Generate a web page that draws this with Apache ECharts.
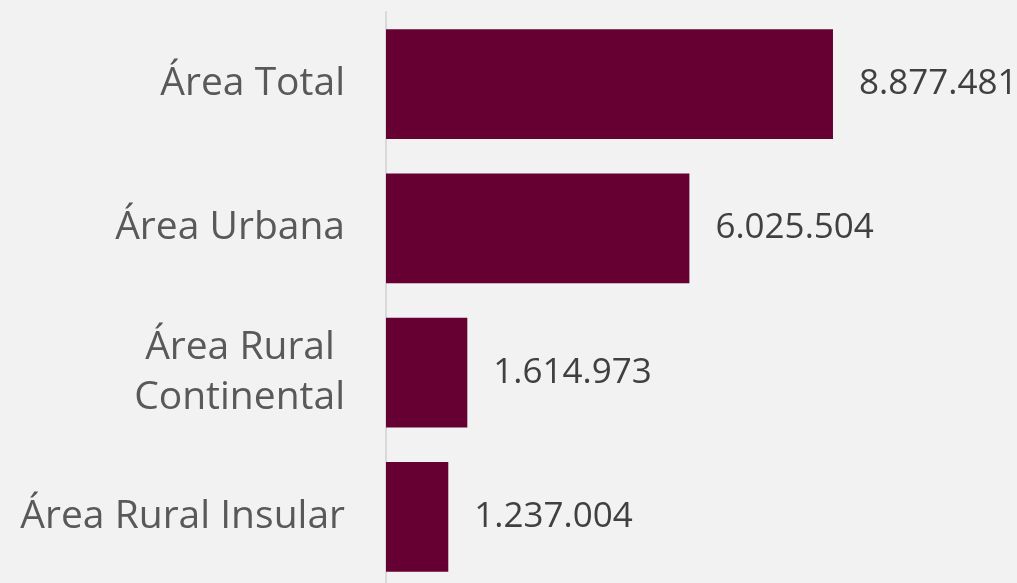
<!DOCTYPE html>
<html>
<head>
    <meta charset="utf-8">
    <title>Población por área</title>
    <script src="https://cdn.jsdelivr.net/npm/echarts@6/dist/echarts.min.js"></script>
    <style>
        html, body { margin: 0; padding: 0; background: #f2f2f2; }
        #chart { width: 1017px; height: 583px; }
    </style>
</head>
<body>
    <div id="chart"></div>
    <script>
        // categorías y valores
        var categorias = ['Área Total', 'Área Urbana', 'Área Rural \nContinental', 'Área Rural Insular'];
        var valores = [8877481, 6025504, 1614973, 1237004];

        // 8877481 -> 8.877.481
        function miles(v) {
            return String(v).replace(/\B(?=(\d{3})+(?!\d))/g, '.');
        }

        var chart = echarts.init(document.getElementById('chart'));
        var option = {
            backgroundColor: '#f2f2f2',
            animation: false,
            grid: {
                left: 386,
                top: 12,
                width: 503.5,
                height: 577,
                outerBoundsMode: 'none'
            },
            xAxis: {
                type: 'value',
                min: 0,
                max: 10000000,
                show: false
            },
            yAxis: {
                type: 'category',
                inverse: true,
                data: categorias,
                axisLine: { show: true, lineStyle: { color: '#d9d9d9', width: 2 } },
                axisTick: { show: false },
                axisLabel: {
                    margin: 41,
                    color: '#595959',
                    fontFamily: 'Open Sans',
                    fontSize: 39,
                    lineHeight: 50,
                    align: 'right'
                }
            },
            series: [{
                type: 'bar',
                data: valores,
                barCategoryGap: '24%',
                itemStyle: { color: '#660033' },
                label: {
                    show: true,
                    position: 'right',
                    distance: 26,
                    color: '#404040',
                    fontFamily: 'Open Sans',
                    fontSize: 35,
                    formatter: function (p) { return miles(p.value); }
                }
            }]
        };
        chart.setOption(option);
    </script>
</body>
</html>
